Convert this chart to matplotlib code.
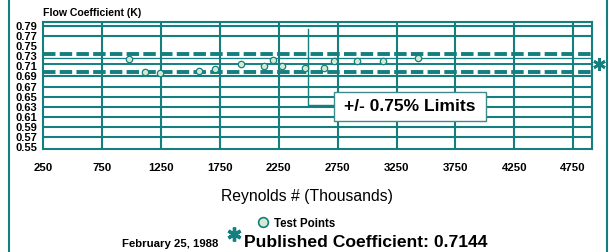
import matplotlib.pyplot as plt
from matplotlib.lines import Line2D
from matplotlib.patches import Rectangle
from matplotlib.transforms import blended_transform_factory

plt.rcParams['font.family'] = ['Liberation Sans', 'DejaVu Sans']

# test points (Reynolds # in thousands, flow coefficient K)
reynolds = [975, 1110, 1240, 1570, 1710, 1930, 2125, 2205, 2280, 2475, 2630, 2715, 2915, 3135, 3435]
flow_k = [0.724, 0.699, 0.697, 0.701, 0.705, 0.714, 0.711, 0.723, 0.711, 0.707, 0.707, 0.721, 0.721,
          0.720, 0.727]

published_k = 0.7144
# the dashed "limit" lines, where the original draws them
upper_limit = 0.7345
lower_limit = 0.6988
thin_line = 0.7266

x_ticks = [250, 750, 1250, 1750, 2250, 2750, 3250, 3750, 4250, 4750]
y_ticks = [0.55, 0.57, 0.59, 0.61, 0.63, 0.65, 0.67, 0.69, 0.71, 0.73, 0.75, 0.77, 0.79]
y_ticklabels = ['0.55', '0.57', '0.59', '0.61', '0.63', '0.65', '0.67', '0.69', '0.71', '0.73',
                '0.75', '0.77', '0.79']
h_grid = [0.57, 0.59, 0.61, 0.63, 0.65, 0.67, 0.69, 0.77, 0.79]
v_grid = [750, 1250, 1750, 2250, 2750, 3250, 3750, 4250, 4750]

teal = '#157f7f'
point_fill = '#d3ebd3'

fig = plt.figure(figsize=(6.09, 2.52), dpi=100)
fig.patch.set_facecolor('white')
ax = fig.add_axes([0.0711, 0.4087, 0.9011, 0.5052])

ax.set_xlim(250, 4911)
ax.set_ylim(0.5462, 0.7985)

# grid
for y in h_grid:
    ax.axhline(y, color=teal, lw=1.5, zorder=1)
for x in v_grid:
    ax.axvline(x, color=teal, lw=1.5, zorder=1)
ax.axhline(thin_line, color=teal, lw=0.9, zorder=1)
ax.axhline(published_k, color=teal, lw=1.4, zorder=1)

# limit lines
ax.axhline(upper_limit, color=teal, lw=2.8, linestyle=(0, (3.2, 1.1)), dash_capstyle='butt', zorder=2)
ax.axhline(lower_limit, color=teal, lw=2.8, linestyle=(0, (3.2, 1.1)), dash_capstyle='butt', zorder=2)

# test points
ax.plot(reynolds, flow_k, linestyle='none', marker='o', ms=4.6, mfc=point_fill, mec=teal, mew=0.9,
        zorder=4)

# bracket + label box
ax.plot([2500, 2500, 2719], [0.784, 0.6334, 0.6334], color=teal, lw=1.0, zorder=3)
ax.add_patch(Rectangle((2719, 0.6023), 4008 - 2719, 0.6598 - 0.6023, facecolor='white',
                       edgecolor='#3f8a8a', lw=1.0, zorder=5))
ax.text((2719 + 4008) / 2, (0.6023 + 0.6598) / 2, '+/- 0.75% Limits', ha='center', va='center',
        fontsize=12.5, fontweight='bold', zorder=6)

# published coefficient marker at right edge
trans = blended_transform_factory(ax.transAxes, ax.transData)
ax.plot([1.0128], [published_k], transform=trans, marker=(6, 2, 0), ms=9, mew=2.0, color=teal,
        clip_on=False)

ax.set_xticks(x_ticks)
ax.set_yticks(y_ticks)
ax.set_yticklabels(y_ticklabels)
ax.tick_params(axis='y', length=0, pad=4.3, labelsize=8)
ax.tick_params(axis='x', length=0, pad=10, labelsize=8.2)
for lab in ax.get_xticklabels() + ax.get_yticklabels():
    lab.set_fontweight('bold')
for sp in ax.spines.values():
    sp.set_color(teal)
    sp.set_linewidth(1.5)

# texts
fig.text(43 / 609, 1 - 13 / 252, 'Flow Coefficient (K)', fontsize=7.6, fontweight='bold',
         ha='left', va='center')
fig.text(307 / 609, 1 - 201.5 / 252, 'Reynolds # (Thousands)', fontsize=11.3, ha='center',
         va='baseline')

# legend / footer
fig.add_artist(Line2D([263.3 / 609], [1 - 222.3 / 252], marker='o', ms=7, mfc=point_fill, mec=teal,
                      mew=1.2, linestyle='none'))
fig.text(274 / 609, 1 - 227 / 252, 'Test Points', fontsize=8.3, fontweight='bold', ha='left',
         va='baseline')
fig.add_artist(Line2D([234.5 / 609], [1 - 234 / 252], marker=(6, 2, 0), ms=10, mew=2.4, color=teal,
                      linestyle='none'))
fig.text(122 / 609, 1 - 247 / 252, 'February 25, 1988', fontsize=8.2, fontweight='bold', ha='left',
         va='baseline')
fig.text(244.3 / 609, 1 - 247 / 252, 'Published Coefficient: 0.7144', fontsize=12.6,
         fontweight='bold', ha='left', va='baseline')

# outer frame lines
fig.add_artist(Line2D([8.5 / 609, 8.5 / 609], [0, 1], color=teal, lw=1.5))
fig.add_artist(Line2D([606.5 / 609, 606.5 / 609], [0, 1], color=teal, lw=1.5))

fig.savefig('out.png', dpi=100)
